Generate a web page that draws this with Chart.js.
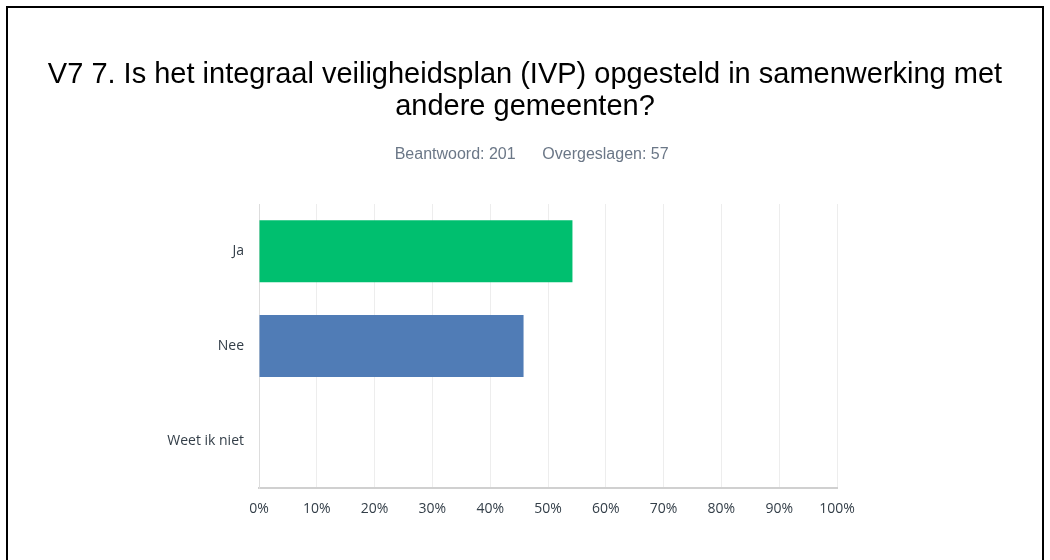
<!DOCTYPE html>
<html>
<head>
<meta charset="utf-8">
<script src="https://cdn.jsdelivr.net/npm/chart.js@4.4.1/dist/chart.umd.min.js"></script>
<style>
  html, body { margin: 0; padding: 0; background: #ffffff; }
  #wrap { position: relative; width: 1050px; height: 560px; overflow: hidden; background: #fff; }
  #c { position: absolute; left: 0; top: 0; }
  #frame { position: absolute; left: 6px; top: 6px; width: 1038px; height: 600px; border: 2px solid #000; box-sizing: border-box; pointer-events: none; }
</style>
</head>
<body>
<div id="wrap">
  <canvas id="c" width="1050" height="560"></canvas>
  <div id="frame"></div>
</div>
<script>
const titleLines = ["V7 7. Is het integraal veiligheidsplan (IVP) opgesteld in samenwerking met", "andere gemeenten?"];
const answeredLabel = "Beantwoord: 201";
const skippedLabel = "Overgeslagen: 57";
const categories = ["Ja", "Nee", "Weet ik niet"];
const percentages = [54.23, 45.77, 0];
const barColors = ["#00BF6F", "#507CB6", "#D25F90"];
const xTicks = [0, 10, 20, 30, 40, 50, 60, 70, 80, 90, 100];

const GAP = "\u00A0\u00A0\u00A0\u00A0\u00A0\u00A0";
const LEAD = "\u00A0\u00A0\u00A0";

new Chart(document.getElementById('c'), {
  type: 'bar',
  data: {
    labels: categories,
    datasets: [{
      data: percentages,
      backgroundColor: barColors,
      borderWidth: 0,
      barPercentage: 0.655,
      categoryPercentage: 1.0
    }]
  },
  options: {
    indexAxis: 'y',
    responsive: false,
    animation: false,
    layout: { padding: 0 },
    plugins: {
      legend: { display: false },
      tooltip: { enabled: false },
      title: {
        display: true,
        text: titleLines,
        color: '#000000',
        font: { family: '"Liberation Sans", Arial, sans-serif', size: 29, weight: 'normal', lineHeight: 1.114 },
        padding: { top: 59, bottom: 0 }
      },
      subtitle: {
        display: true,
        text: LEAD + answeredLabel + GAP + skippedLabel,
        color: '#6B7787',
        font: { family: '"Liberation Sans", Arial, sans-serif', size: 16, weight: 'normal', lineHeight: 1.2 },
        padding: { top: 21.2, bottom: 40 }
      }
    },
    scales: {
      x: {
        type: 'linear',
        position: 'bottom',
        min: 0,
        max: 100,
        afterBuildTicks: (s) => { s.ticks = xTicks.map(v => ({ value: v })); },
        afterFit: (s) => { s.height = 72; },
        ticks: {
          callback: (v) => v + '%',
          color: '#333E48',
          font: { family: '"Open Sans", sans-serif', size: 14 },
          padding: 13,
          maxRotation: 0,
          autoSkip: false
        },
        grid: { color: '#EDEDED', lineWidth: 1, drawTicks: false },
        border: { display: true, color: '#D0D0D0', width: 2 }
      },
      y: {
        type: 'category',
        position: 'left',
        afterFit: (s) => { s.width = 259; },
        ticks: {
          color: '#333E48',
          font: { family: '"Open Sans", sans-serif', size: 14 },
          padding: 15
        },
        grid: { display: false, drawTicks: false },
        border: { display: true, color: '#DDDDDD', width: 1 }
      },
      yRight: {
        type: 'linear',
        position: 'right',
        display: true,
        afterFit: (s) => { s.width = 213; },
        ticks: { display: false },
        grid: { display: false, drawTicks: false },
        border: { display: false }
      }
    }
  }
});
</script>
</body>
</html>
